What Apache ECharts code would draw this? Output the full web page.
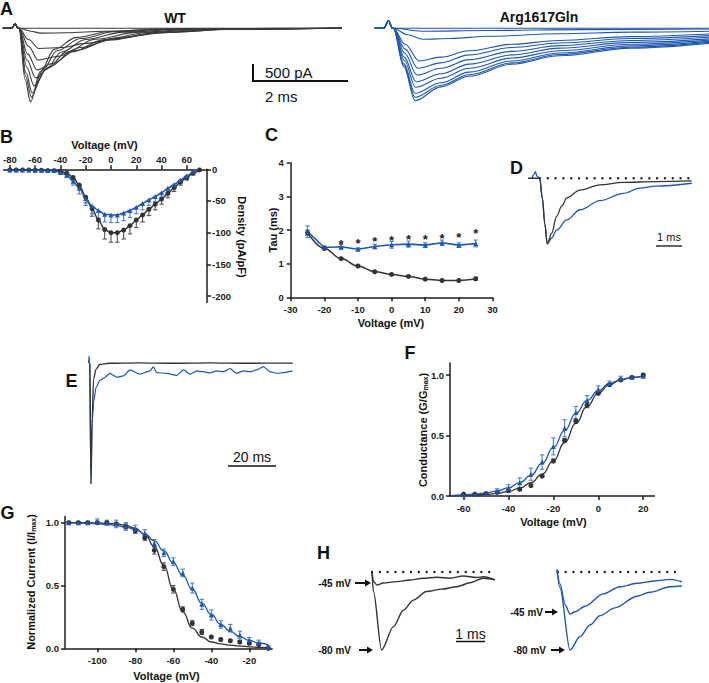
<!DOCTYPE html>
<html><head><meta charset="utf-8">
<script src="https://cdn.jsdelivr.net/npm/echarts@6/dist/echarts.min.js"></script>
<style>html,body{margin:0;padding:0;background:#fff}#c{width:709px;height:683px}</style>
</head><body><div id="c"></div><script>
// ---------- Panel B: current density vs voltage ----------
const bVoltWT = [-80,-75,-70,-65,-60,-55,-50,-45,-40,-35,-30,-25,-20,-15,-10,-5,0,5,10,15,20,25,30,35,40,45,50,55,60,65,70];
const bWT = [-1,-1,-1,-1,-1.5,-1.5,-2,-2,-3,-6,-13,-25,-44,-62,-80,-95,-100,-100,-96,-89,-80,-72,-63,-55,-47,-38,-29,-20,-13,-6,-1];
const bWTerr = [0,0,0,0,0,0,0,0,1,2,4,6,9,12,14,15,15,15,14,13,12,11,10,9,8,7,6,5,4,3,2];
const bVoltArg = [-80,-75,-70,-65,-60,-55,-50,-45,-40,-35,-30,-25,-20,-15,-10,-5,0,5,10,15,20,25,30,35,40,45,50,55,60,65];
const bArg = [-1,-1,-1,-1,-1.5,-1.5,-2,-2,-5,-9,-19,-30,-46,-58,-65,-71,-72,-72,-69,-65,-60,-54,-48,-43,-37,-30,-24,-17,-10,-3];
const bArgErr = [0,0,0,0,0,0,0,0,2,4,6,9,11,12,12,12,12,12,12,11,10,10,9,8,7,6,5,4,3,2];
const bXTicks = [-80,-60,-40,-20,0,20,40,60];
const bYTicks = [0,-50,-100,-150,-200];
// ---------- Panel C: tau ----------
const cVolt = [-25,-20,-15,-10,-5,0,5,10,15,20,25];
const cWT = [1.92,1.45,1.15,0.93,0.76,0.68,0.62,0.54,0.50,0.50,0.55];
const cWTerr = [0.08,0.03,0.02,0.02,0.02,0.02,0.02,0.02,0.02,0.02,0.05];
const cArg = [1.95,1.48,1.50,1.43,1.51,1.56,1.58,1.55,1.62,1.55,1.60];
const cArgErr = [0.17,0.05,0.08,0.04,0.07,0.10,0.09,0.07,0.08,0.07,0.10];
const cStarVolt = [-15,-10,-5,0,5,10,15,20,25];
const cStarY = [1.67,1.70,1.75,1.78,1.82,1.80,1.85,1.87,2.0];
// ---------- Panel F: conductance ----------
const fVolt = [-60,-55,-50,-45,-40,-35,-30,-25,-20,-15,-10,-5,0,5,10,15,20];
const fWT = [0.016,0.016,0.02,0.03,0.044,0.055,0.087,0.164,0.29,0.46,0.62,0.75,0.85,0.92,0.96,0.98,1.0];
const fWTerr = [0.005,0.005,0.005,0.005,0.01,0.01,0.01,0.01,0.015,0.015,0.02,0.02,0.015,0.01,0.01,0.01,0.01];
const fArg = [0.01,0.015,0.02,0.04,0.063,0.11,0.18,0.28,0.41,0.56,0.69,0.79,0.88,0.93,0.97,0.98,0.99];
const fArgErr = [0.005,0.005,0.01,0.02,0.03,0.04,0.05,0.06,0.07,0.07,0.05,0.04,0.03,0.02,0.02,0.01,0.01];
const fFitVolt = [-65,-60,-55,-50,-45,-40,-35,-30,-25,-20,-15,-10,-5,0,5,10,15,20];
const fFitWT = [0.003,0.005,0.008,0.013,0.022,0.038,0.065,0.11,0.18,0.29,0.44,0.6,0.74,0.85,0.92,0.96,0.98,0.99];
const fFitArg = [0.006,0.01,0.016,0.026,0.042,0.068,0.11,0.17,0.27,0.4,0.54,0.68,0.79,0.87,0.93,0.96,0.98,0.99];
// ---------- Panel G: steady-state inactivation ----------
const gVolt = [-115,-110,-105,-100,-95,-90,-85,-80,-75,-70,-65,-60,-55,-50,-45,-40,-35,-30,-25,-20,-15,-10];
const gWT = [1.0,1.0,1.0,1.0,1.0,0.99,0.97,0.936,0.88,0.78,0.65,0.47,0.31,0.2,0.13,0.09,0.07,0.06,0.05,0.04,0.03,0.0];
const gWTerr = [0.01,0.01,0.01,0.01,0.01,0.01,0.02,0.02,0.02,0.03,0.03,0.03,0.02,0.02,0.02,0.01,0.01,0.01,0.01,0.01,0.01,0.01];
const gArg = [1.0,1.0,1.0,1.01,1.0,0.99,0.97,0.95,0.915,0.835,0.76,0.69,0.6,0.48,0.35,0.265,0.19,0.16,0.106,0.066,0.045,0.01];
const gArgErr = [0.01,0.01,0.01,0.02,0.02,0.03,0.03,0.03,0.03,0.03,0.03,0.03,0.03,0.04,0.04,0.04,0.03,0.03,0.03,0.02,0.02,0.01];
const gFitWT = [1.0,1.0,0.999,0.998,0.995,0.99,0.978,0.955,0.905,0.81,0.66,0.47,0.29,0.16,0.09,0.05,0.035,0.025,0.018,0.012,0.008,0.005];
const gFitArg = [0.998,0.997,0.995,0.992,0.987,0.978,0.965,0.945,0.91,0.855,0.775,0.68,0.58,0.47,0.36,0.27,0.19,0.135,0.093,0.063,0.042,0.028];
// ---------- Panel A: current traces (t in ms, I in pA) ----------
const wtPrefix = [[-0.34,0],[-0.16,0],[-0.08,130],[-0.02,0]];
const wtTraces = [
  [[0,0],[6.8,0]],
  [[0,0],[0.25,-90],[0.45,-150],[1.0,-140],[1.8,-90],[3.0,-35],[4.5,-5],[6.8,0]],
  [[0,0],[0.2,-350],[0.42,-630],[0.9,-600],[1.4,-470],[2.2,-270],[3.2,-120],[4.5,-30],[6.8,0]],
  [[0,0],[0.2,-560],[0.4,-990],[0.8,-880],[1.3,-600],[2.0,-330],[3.0,-130],[4.5,-30],[6.8,0]],
  [[0,0],[0.18,-800],[0.38,-1300],[0.7,-1100],[1.2,-690],[1.9,-370],[2.8,-150],[4.2,-30],[6.8,0]],
  [[0,0],[0.17,-1000],[0.35,-1550],[0.65,-1200],[1.1,-740],[1.8,-350],[2.7,-130],[4.0,-30],[6.8,0]],
  [[0,0],[0.16,-1200],[0.32,-1800],[0.6,-1250],[1.0,-740],[1.6,-340],[2.5,-120],[3.8,-25],[6.8,0]],
  [[0,0],[0.15,-1400],[0.28,-2020],[0.55,-1300],[0.9,-740],[1.4,-350],[2.2,-120],[3.5,-25],[6.8,0]],
  [[0,0],[0.14,-1500],[0.26,-2150],[0.5,-1300],[0.8,-700],[1.3,-320],[2.0,-110],[3.2,-20],[6.8,0]],
  [[0,0],[0.13,-1600],[0.24,-2300],[0.45,-1350],[0.75,-650],[1.2,-290],[1.9,-100],[3.0,-20],[6.8,0]]
];
const argPrefix = [[-0.39,0],[-0.2,0],[-0.1,235],[-0.02,0]];
const argTraces = [
  [[0,0],[6.65,0]],
  [[0,0],[0.6,-90],[2.0,-70],[4.0,-40],[6.65,-20]],
  [[0,0],[0.3,-200],[0.63,-344],[1.2,-320],[2.0,-250],[3.5,-170],[5.0,-120],[6.65,-90]],
  [[0,0],[0.25,-500],[0.55,-1022],[1.0,-900],[1.6,-700],[2.5,-500],[3.5,-380],[5.0,-260],[6.65,-180]],
  [[0,0],[0.25,-650],[0.52,-1250],[1.0,-1080],[1.6,-830],[2.5,-600],[3.5,-460],[5.0,-320],[6.65,-230]],
  [[0,0],[0.24,-780],[0.5,-1459],[1.0,-1250],[1.6,-980],[2.5,-720],[3.5,-540],[5.0,-380],[6.65,-280]],
  [[0,0],[0.23,-900],[0.48,-1669],[1.0,-1420],[1.6,-1120],[2.5,-830],[3.5,-620],[5.0,-440],[6.65,-330]],
  [[0,0],[0.23,-1000],[0.47,-1844],[1.0,-1560],[1.6,-1250],[2.5,-930],[3.5,-700],[5.0,-500],[6.65,-370]],
  [[0,0],[0.22,-1100],[0.46,-2031],[1.0,-1700],[1.6,-1370],[2.5,-1020],[3.5,-770],[5.0,-550],[6.65,-410]],
  [[0,0],[0.22,-1150],[0.46,-2156],[1.0,-1780],[1.6,-1450],[2.5,-1080],[3.5,-820],[5.0,-590],[6.65,-440]],
  [[0,0],[0.22,-1200],[0.46,-2262],[1.0,-1830],[1.6,-1500],[2.5,-1120],[3.5,-860],[5.0,-620],[6.65,-470]]
];
// ---------- Panel D: normalized traces ----------
const dWT = [[0,0],[0.45,0],[0.55,-0.3],[0.65,-0.7],[0.74,-1],[0.91,-0.84],[1.1,-0.58],[1.3,-0.42],[1.49,-0.3],[2.0,-0.18],[2.77,-0.1],[3.67,-0.064],[4.9,-0.05],[6.3,-0.04]];
const dArg = [[0.15,0],[0.22,0.05],[0.28,0.1],[0.35,0.03],[0.45,0],[0.55,-0.3],[0.65,-0.7],[0.74,-1],[0.91,-0.91],[1.1,-0.79],[1.49,-0.635],[2.0,-0.48],[2.77,-0.34],[3.67,-0.23],[4.3,-0.15],[4.9,-0.12],[6.3,-0.076]];
const dBase = [[0.46,0],[6.3,0]];
// ---------- Panel E: persistent current traces ----------
const eWT = [[0,0],[0.4,-1],[0.9,-0.45],[1.5,-0.13],[2.5,-0.05],[4,-0.01],[8,0],[20,0.004],[35,0],[50,0.004],[65,0],[84.5,0.002]];
const eArg = [[-0.6,0],[-0.4,0.06],[-0.2,0],[0.4,-1],[0.9,-0.5],[1.5,-0.32],[2.5,-0.2],[4.2,-0.14],[6,-0.12],[8.3,-0.083],[9.7,-0.1],[11.1,-0.116],[13.9,-0.105],[16.7,-0.055],[20.8,-0.09],[25,-0.063],[26.4,-0.03],[27.8,-0.078],[31.9,-0.083],[36.1,-0.1],[38.9,-0.055],[41.7,-0.09],[44.4,-0.063],[47.2,-0.07],[50,-0.08],[52.8,-0.063],[55.6,-0.07],[58.3,-0.045],[61.1,-0.083],[63.9,-0.063],[66.7,-0.07],[69.4,-0.055],[72.2,-0.028],[75,-0.07],[77.8,-0.083],[80.6,-0.078],[84.4,-0.063]];
// ---------- Panel H: traces after prepulses ----------
const hWT80 = [[0,0],[0.05,-0.25],[0.33,-1],[0.74,-0.7],[1.08,-0.49],[1.43,-0.36],[1.88,-0.25],[2.4,-0.22],[2.92,-0.19],[3.38,-0.137],[3.84,-0.08],[4.24,-0.1]];
const hWT45 = [[0,0],[0.05,-0.12],[0.17,-0.167],[0.38,-0.141],[0.85,-0.124],[1.31,-0.103],[1.76,-0.081],[2.23,-0.068],[2.69,-0.08],[3.15,-0.051],[3.6,-0.07],[3.84,-0.06],[4.24,-0.1]];
const hArg80 = [[0,0.03],[0.1,-0.2],[0.45,-1],[0.79,-0.83],[1.14,-0.68],[1.48,-0.56],[2.0,-0.46],[2.76,-0.31],[3.2,-0.26],[3.9,-0.19],[4.31,-0.18]];
const hArg45 = [[0,0.03],[0.1,-0.15],[0.28,-0.42],[0.45,-0.54],[0.62,-0.51],[0.97,-0.44],[1.59,-0.28],[2.17,-0.19],[2.76,-0.145],[3.38,-0.115],[3.9,-0.094],[4.31,-0.125]];
const hBaseL = [[0,0],[4.24,0]];
const hBaseR = [[0.03,0],[4.31,0]];

// ---------- styling ----------
const FONT = 'Liberation Sans, Arial, Helvetica, sans-serif';
const BLK = '#333333', BLU = '#1f56ae', BLU_ERR = '#4a84d0', BLK_ERR = '#555555', AX = '#1e1e1e';
const zip = (xs, ys) => xs.map((x, i) => [x, ys[i]]);

function valAxis(gi, min, max, ticks, position, margin, fmt) {
  return {
    type: 'value', gridIndex: gi, min: min, max: max, position: position,
    splitLine: {show: false},
    axisLine: {show: true, onZero: false, lineStyle: {color: AX, width: 1.5}},
    axisTick: {show: true, length: 4, customValues: ticks, lineStyle: {color: AX, width: 1.5}},
    axisLabel: {customValues: ticks, margin: margin, color: '#1a1a1a', fontSize: 9.5, fontWeight: 'bold', fontFamily: FONT,
      formatter: fmt || (v => String(v))}
  };
}
function hidden(gi, min, max) { return {type: 'value', gridIndex: gi, min: min, max: max, show: false}; }

function errSeries(ai, xs, ys, errs, color, downOnly) {
  const data = xs.map((x, i) => downOnly ? [x, ys[i] - errs[i], ys[i]] : [x, ys[i] - errs[i], ys[i] + errs[i]]).filter((d, i) => errs[i] > 0);
  return {
    type: 'custom', xAxisIndex: ai, yAxisIndex: ai, data: data, z: 1, silent: true,
    encode: {x: 0, y: [1, 2]},
    renderItem: function (params, api) {
      const x = api.value(0), lo = api.value(1), hi = api.value(2);
      const p1 = api.coord([x, lo]), p2 = api.coord([x, hi]);
      const st = {stroke: color, lineWidth: 1.1};
      const ch = [{type: 'line', shape: {x1: p1[0], y1: p1[1], x2: p2[0], y2: p2[1]}, style: st},
                  {type: 'line', shape: {x1: p1[0] - 2.2, y1: p1[1], x2: p1[0] + 2.2, y2: p1[1]}, style: st}];
      if (!downOnly) ch.push({type: 'line', shape: {x1: p2[0] - 2.2, y1: p2[1], x2: p2[0] + 2.2, y2: p2[1]}, style: st});
      return {type: 'group', children: ch};
    }
  };
}
function lineS(ai, data, color, opts) {
  return Object.assign({type: 'line', xAxisIndex: ai, yAxisIndex: ai, data: data, symbol: 'none', smooth: 0.3,
    smoothMonotone: 'x', lineStyle: {color: color, width: 1.3}, itemStyle: {color: color}, z: 3, silent: true}, opts || {});
}
function scat(ai, data, color, sym, size) {
  return {type: 'scatter', xAxisIndex: ai, yAxisIndex: ai, data: data, symbol: sym, symbolSize: size,
    itemStyle: {color: color, opacity: 1}, z: 4, silent: true};
}
const dots = {color: '#222', width: 2.4, type: [0.01, 7.8], cap: 'round'};

const grids = [
  {left: 3.56, top: 169.3, width: 203.5, height: 133.1},   // 0 B
  {left: 290.7, top: 162.7, width: 201.8, height: 134.6},  // 1 C
  {left: 450.1, top: 362.9, width: 204.3, height: 133.1},  // 2 F
  {left: 65, top: 516.4, width: 207.1, height: 131.9},     // 3 G
  {left: 0, top: 18.7, width: 342, height: 89.6},          // 4 A WT
  {left: 374.3, top: 18.7, width: 334.9, height: 89.6},    // 5 A Arg
  {left: 528, top: 168.4, width: 165, height: 78.8},       // 6 D
  {left: 87.6, top: 351.2, width: 206.4, height: 138.8},   // 7 E
  {left: 369.1, top: 568.1, width: 127.6, height: 84.24},  // 8 H left
  {left: 554.1, top: 568.1, width: 130.5, height: 84.24}   // 9 H right
];
const xAxes = [
  valAxis(0, -85, 76, bXTicks, 'top', 5),
  valAxis(1, -30, 30, [-30,-20,-10,0,10,20,30], 'bottom', 7),
  valAxis(2, -66, 25, [-60,-40,-20,0,20], 'bottom', 7),
  valAxis(3, -117, -8, [-100,-80,-60,-40,-20], 'bottom', 7),
  hidden(4, -0.4, 6.8), hidden(5, -0.4, 6.65), hidden(6, 0, 6.346),
  hidden(7, -1, 85), hidden(8, -0.1, 4.3), hidden(9, -0.1, 4.4)
];
const yAxes = [
  valAxis(0, -210, 0, bYTicks, 'right', 5),
  valAxis(1, 0, 4, [0,1,2,3,4], 'left', 7),
  valAxis(2, 0, 1.1, [0,0.5,1], 'left', 6, v => v.toFixed(1)),
  valAxis(3, 0, 1.05, [0,0.5,1], 'left', 6, v => v.toFixed(1)),
  hidden(4, -2500, 300), hidden(5, -2500, 300), hidden(6, -1.05, 0.15),
  hidden(7, -1.05, 0.1), hidden(8, -1.03, 0.05), hidden(9, -1.03, 0.05)
];

const series = [];
// B
series.push(errSeries(0, bVoltWT, bWT, bWTerr, BLK_ERR, true));
series.push(errSeries(0, bVoltArg, bArg, bArgErr, BLU_ERR, true));
series.push(lineS(0, zip(bVoltWT, bWT), BLK, {symbol: 'circle', symbolSize: 5, lineStyle: {color: BLK, width: 1.5}}));
series.push(lineS(0, zip(bVoltArg, bArg), BLU, {symbol: 'triangle', symbolSize: 5, lineStyle: {color: BLU, width: 1.5}}));
// C
series.push(errSeries(1, cVolt, cWT, cWTerr, BLK_ERR, false));
series.push(errSeries(1, cVolt, cArg, cArgErr, BLU_ERR, false));
series.push(lineS(1, zip(cVolt, cWT), BLK, {symbol: 'circle', symbolSize: 5, smooth: 0.4, lineStyle: {color: BLK, width: 1.5}}));
series.push(lineS(1, zip(cVolt, cArg), BLU, {symbol: 'triangle', symbolSize: 5, smooth: false, lineStyle: {color: BLU, width: 1.6}}));
series.push({type: 'custom', xAxisIndex: 1, yAxisIndex: 1, data: zip(cStarVolt, cStarY), silent: true, z: 5,
  encode: {x: 0, y: 1},
  renderItem: function (params, api) {
    const c = api.coord([api.value(0), api.value(1)]);
    return {type: 'text', x: c[0], y: c[1] + 3,
      style: {text: '*', fontSize: 13, fontWeight: 'bold', fontFamily: FONT, fill: '#222', align: 'center', verticalAlign: 'middle'}};
  }});
// F
series.push(errSeries(2, fVolt, fWT, fWTerr, BLK_ERR, false));
series.push(errSeries(2, fVolt, fArg, fArgErr, BLU_ERR, false));
series.push(lineS(2, zip(fFitVolt, fFitWT), BLK, {smooth: 0.5}));
series.push(lineS(2, zip(fFitVolt, fFitArg), BLU, {smooth: 0.5}));
series.push(scat(2, zip(fVolt, fWT), BLK, 'circle', 5));
series.push(scat(2, zip(fVolt, fArg), BLU, 'triangle', 5));
// G
series.push(errSeries(3, gVolt, gWT, gWTerr, BLK_ERR, false));
series.push(errSeries(3, gVolt, gArg, gArgErr, BLU_ERR, false));
series.push(lineS(3, zip(gVolt, gFitWT), BLK, {smooth: 0.5}));
series.push(lineS(3, zip(gVolt, gFitArg), BLU, {smooth: 0.5}));
series.push(scat(3, zip(gVolt, gWT), BLK, 'circle', 5));
series.push(scat(3, zip(gVolt, gArg), BLU, 'triangle', 5));
// A
wtTraces.forEach(tr => series.push(lineS(4, wtPrefix.concat(tr), '#3a3a3a', {smooth: 0.35, lineStyle: {color: '#3a3a3a', width: 1.1}})));
argTraces.forEach(tr => series.push(lineS(5, argPrefix.concat(tr), BLU, {smooth: 0.35, lineStyle: {color: BLU, width: 1.1}})));
// D
series.push(lineS(6, dBase, '#222', {smooth: false, lineStyle: dots}));
series.push(lineS(6, dArg, BLU, {smooth: 0.35}));
series.push(lineS(6, dWT, BLK, {smooth: 0.35}));
// E
series.push(lineS(7, eArg, BLU, {smooth: 0.2, lineStyle: {color: BLU, width: 1.2}}));
series.push(lineS(7, eWT, BLK, {smooth: 0.3, lineStyle: {color: BLK, width: 1.3}}));
// H
series.push(lineS(8, hBaseL, '#222', {smooth: false, lineStyle: dots}));
series.push(lineS(8, hWT45, BLK, {smooth: 0.3, lineStyle: {color: BLK, width: 1.4}}));
series.push(lineS(8, hWT80, BLK, {smooth: 0.3, lineStyle: {color: BLK, width: 1.4}}));
series.push(lineS(9, hBaseR, '#222', {smooth: false, lineStyle: dots}));
series.push(lineS(9, hArg45, BLU, {smooth: 0.3, lineStyle: {color: BLU, width: 1.4}}));
series.push(lineS(9, hArg80, BLU, {smooth: 0.3, lineStyle: {color: BLU, width: 1.4}}));

// ---------- annotations ----------
function txt(x, y, text, size, weight, align, rot, rich) {
  const el = {type: 'text', x: x, y: y, silent: true, z: 10,
    style: {text: text, fontSize: size, fontWeight: weight || 'bold', fontFamily: FONT, fill: '#111',
      align: align || 'center', verticalAlign: 'middle'}};
  if (rot) el.rotation = rot;
  if (rich) el.style.rich = rich;
  return el;
}
function seg(x1, y1, x2, y2, w) {
  return {type: 'line', silent: true, z: 10, shape: {x1: x1, y1: y1, x2: x2, y2: y2}, style: {stroke: '#111', lineWidth: w || 1.5}};
}
function arrow(x1, x2, y) {
  return [seg(x1, y, x2 - 4, y, 2),
    {type: 'polygon', silent: true, z: 10, shape: {points: [[x2, y], [x2 - 6, y - 3.5], [x2 - 6, y + 3.5]]}, style: {fill: '#111'}}];
}
const subRich = {s: {fontSize: 7, fontWeight: 'bold', fontFamily: FONT, fill: '#111', padding: [5, 0, 0, 0]}};
const graphics = [
  txt(6.5, 9, 'A', 18), txt(6.5, 136.5, 'B', 18), txt(271.5, 135, 'C', 18), txt(516.5, 167.5, 'D', 18),
  txt(71.5, 381, 'E', 18), txt(410, 352.5, 'F', 18), txt(7.5, 512.5, 'G', 18), txt(323.5, 552.5, 'H', 18),
  txt(175, 18, 'WT', 14), txt(539, 17, 'Arg1617Gln', 14),
  // A scale bar
  seg(253, 64, 253, 81, 2), seg(252, 81, 348, 81, 2),
  txt(265, 72.5, '500 pA', 15, 'normal', 'left'), txt(265, 96, '2 ms', 15, 'normal', 'left'),
  // axis titles
  txt(104.5, 145, 'Voltage (mV)', 11), txt(391, 323, 'Voltage (mV)', 11),
  txt(553.5, 521.7, 'Voltage (mV)', 11), txt(166.5, 675.5, 'Voltage (mV)', 11),
  txt(242, 237, 'Density (pA/pF)', 11, 'bold', 'center', -Math.PI / 2),
  txt(273, 230, 'Tau (ms)', 11, 'bold', 'center', Math.PI / 2),
  txt(422.5, 430, 'Conductance (G/G{s|max})', 11, 'bold', 'center', Math.PI / 2, subRich),
  txt(31, 582, 'Normalized Current (I/I{s|max})', 11, 'bold', 'center', Math.PI / 2, subRich),
  // D scale
  txt(669, 237, '1 ms', 11, 'normal'), seg(656, 246, 682, 246, 1.3),
  // E scale
  txt(252, 457, '20 ms', 14, 'normal'), seg(228, 466, 276, 466, 1.5),
  // H scale and labels
  txt(470.5, 633.5, '1 ms', 14, 'normal'), seg(456, 641.5, 485, 641.5, 1.5),
  txt(351, 583, '-45 mV', 10, 'bold', 'right'), txt(351, 650, '-80 mV', 10, 'bold', 'right'),
  txt(543, 612, '-45 mV', 10, 'bold', 'right'), txt(546, 650, '-80 mV', 10, 'bold', 'right')
].concat(arrow(355, 371, 583), arrow(359, 373, 650), arrow(545, 558, 612), arrow(551, 565, 650));

const chart = echarts.init(document.getElementById('c'), null, {renderer: 'svg', width: 709, height: 683});
chart.setOption({
  animation: false,
  backgroundColor: '#ffffff',
  textStyle: {fontFamily: FONT},
  grid: grids,
  xAxis: xAxes,
  yAxis: yAxes,
  series: series,
  graphic: graphics
});
</script></body></html>
